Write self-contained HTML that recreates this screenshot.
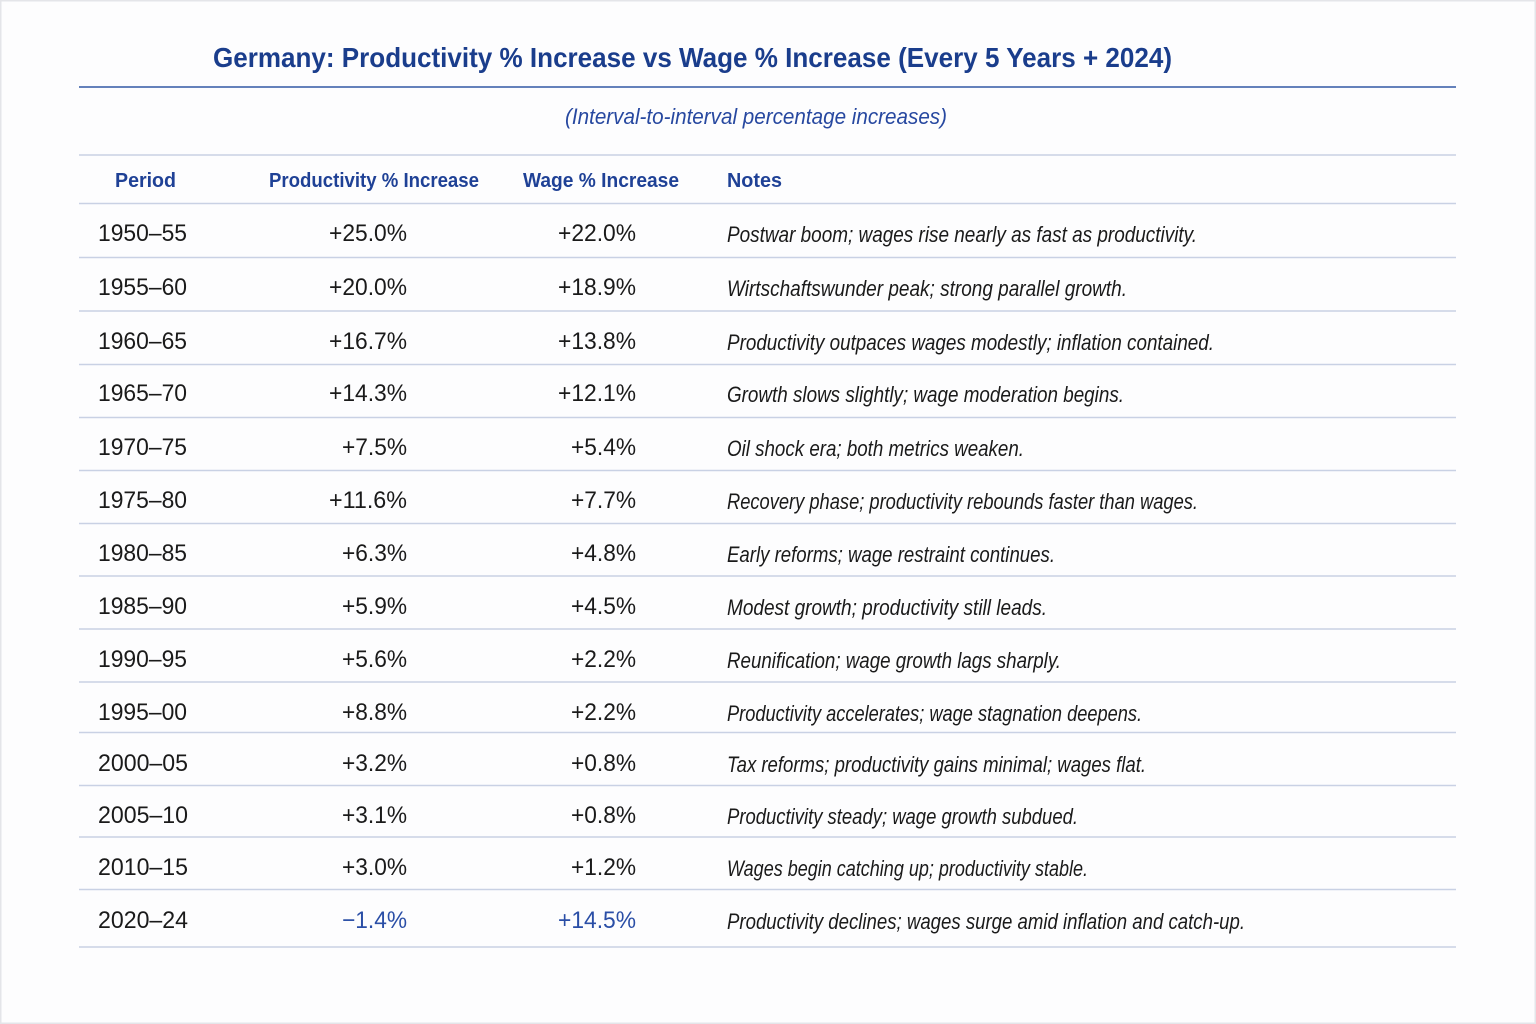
<!DOCTYPE html>
<html>
<head>
<meta charset="utf-8">
<style>
  html, body { margin:0; padding:0; width:1536px; height:1024px; overflow:hidden; background:#fcfcfd; }
  svg { display:block; }
  .t { font-family:"Liberation Sans", "DejaVu Sans", sans-serif; }
</style>
</head>
<body>
<svg width="1536" height="1024" viewBox="0 0 1536 1024" xmlns="http://www.w3.org/2000/svg">
  <rect x="0" y="0" width="1536" height="1024" fill="#fdfdfe"/>
  <rect x="0.75" y="0.75" width="1534.5" height="1022.5" fill="none" stroke="#e4e5e9" stroke-width="1.5"/>

  <!-- Title -->
  <text class="t" x="213" y="67" font-size="27.5" font-weight="bold" fill="#1a3d8c" textLength="959" lengthAdjust="spacingAndGlyphs">Germany: Productivity % Increase vs Wage % Increase (Every 5 Years + 2024)</text>
  <line x1="79" y1="87" x2="1456" y2="87" stroke="#6481bb" stroke-width="2"/>

  <!-- Subtitle -->
  <text class="t" x="565" y="124" font-size="22" font-style="italic" fill="#2748a0" textLength="382" lengthAdjust="spacingAndGlyphs">(Interval-to-interval percentage increases)</text>

  <!-- Table lines -->
  <g stroke="#c9d1e4" stroke-width="1.5">
    <line x1="79" y1="155" x2="1456" y2="155"/>
    <line x1="79" y1="203.5" x2="1456" y2="203.5"/>
    <line x1="79" y1="257.5" x2="1456" y2="257.5"/>
    <line x1="79" y1="311" x2="1456" y2="311"/>
    <line x1="79" y1="364.5" x2="1456" y2="364.5"/>
    <line x1="79" y1="417.5" x2="1456" y2="417.5"/>
    <line x1="79" y1="470.5" x2="1456" y2="470.5"/>
    <line x1="79" y1="523.5" x2="1456" y2="523.5"/>
    <line x1="79" y1="576" x2="1456" y2="576"/>
    <line x1="79" y1="629" x2="1456" y2="629"/>
    <line x1="79" y1="682" x2="1456" y2="682"/>
    <line x1="79" y1="732.5" x2="1456" y2="732.5"/>
    <line x1="79" y1="785.5" x2="1456" y2="785.5"/>
    <line x1="79" y1="837" x2="1456" y2="837"/>
    <line x1="79" y1="889.5" x2="1456" y2="889.5"/>
    <line x1="79" y1="947" x2="1456" y2="947"/>
  </g>

  <!-- Header -->
  <g class="t" font-size="20.5" font-weight="bold" fill="#1f4196">
    <text x="115" y="187" textLength="61" lengthAdjust="spacingAndGlyphs">Period</text>
    <text x="269" y="187" textLength="210" lengthAdjust="spacingAndGlyphs">Productivity % Increase</text>
    <text x="523" y="187" textLength="156" lengthAdjust="spacingAndGlyphs">Wage % Increase</text>
    <text x="727" y="187" textLength="55" lengthAdjust="spacingAndGlyphs">Notes</text>
  </g>

  <!-- Period column -->
  <g class="t" font-size="24" fill="#1a1a1a">
    <text x="98" y="241" textLength="89" lengthAdjust="spacingAndGlyphs">1950–55</text>
    <text x="98" y="295" textLength="89" lengthAdjust="spacingAndGlyphs">1955–60</text>
    <text x="98" y="349" textLength="89" lengthAdjust="spacingAndGlyphs">1960–65</text>
    <text x="98" y="401" textLength="89" lengthAdjust="spacingAndGlyphs">1965–70</text>
    <text x="98" y="455" textLength="89" lengthAdjust="spacingAndGlyphs">1970–75</text>
    <text x="98" y="508" textLength="89" lengthAdjust="spacingAndGlyphs">1975–80</text>
    <text x="98" y="561" textLength="89" lengthAdjust="spacingAndGlyphs">1980–85</text>
    <text x="98" y="614" textLength="89" lengthAdjust="spacingAndGlyphs">1985–90</text>
    <text x="98" y="667" textLength="89" lengthAdjust="spacingAndGlyphs">1990–95</text>
    <text x="98" y="720" textLength="89" lengthAdjust="spacingAndGlyphs">1995–00</text>
    <text x="98" y="771" textLength="90" lengthAdjust="spacingAndGlyphs">2000–05</text>
    <text x="98" y="823" textLength="90" lengthAdjust="spacingAndGlyphs">2005–10</text>
    <text x="98" y="875" textLength="90" lengthAdjust="spacingAndGlyphs">2010–15</text>
    <text x="98" y="928" textLength="90" lengthAdjust="spacingAndGlyphs">2020–24</text>
  </g>

  <!-- Productivity column (right aligned at 407) -->
  <g class="t" font-size="24" fill="#1a1a1a" text-anchor="end">
    <text x="407" y="241" textLength="78" lengthAdjust="spacingAndGlyphs">+25.0%</text>
    <text x="407" y="295" textLength="78" lengthAdjust="spacingAndGlyphs">+20.0%</text>
    <text x="407" y="349" textLength="78" lengthAdjust="spacingAndGlyphs">+16.7%</text>
    <text x="407" y="401" textLength="78" lengthAdjust="spacingAndGlyphs">+14.3%</text>
    <text x="407" y="455" textLength="65" lengthAdjust="spacingAndGlyphs">+7.5%</text>
    <text x="407" y="508" textLength="78" lengthAdjust="spacingAndGlyphs">+11.6%</text>
    <text x="407" y="561" textLength="65" lengthAdjust="spacingAndGlyphs">+6.3%</text>
    <text x="407" y="614" textLength="65" lengthAdjust="spacingAndGlyphs">+5.9%</text>
    <text x="407" y="667" textLength="65" lengthAdjust="spacingAndGlyphs">+5.6%</text>
    <text x="407" y="720" textLength="65" lengthAdjust="spacingAndGlyphs">+8.8%</text>
    <text x="407" y="771" textLength="65" lengthAdjust="spacingAndGlyphs">+3.2%</text>
    <text x="407" y="823" textLength="65" lengthAdjust="spacingAndGlyphs">+3.1%</text>
    <text x="407" y="875" textLength="65" lengthAdjust="spacingAndGlyphs">+3.0%</text>
    <text x="407" y="928" textLength="65" lengthAdjust="spacingAndGlyphs" fill="#2a4ea6">−1.4%</text>
  </g>

  <!-- Wage column (right aligned at 636) -->
  <g class="t" font-size="24" fill="#1a1a1a" text-anchor="end">
    <text x="636" y="241" textLength="78" lengthAdjust="spacingAndGlyphs">+22.0%</text>
    <text x="636" y="295" textLength="78" lengthAdjust="spacingAndGlyphs">+18.9%</text>
    <text x="636" y="349" textLength="78" lengthAdjust="spacingAndGlyphs">+13.8%</text>
    <text x="636" y="401" textLength="78" lengthAdjust="spacingAndGlyphs">+12.1%</text>
    <text x="636" y="455" textLength="65" lengthAdjust="spacingAndGlyphs">+5.4%</text>
    <text x="636" y="508" textLength="65" lengthAdjust="spacingAndGlyphs">+7.7%</text>
    <text x="636" y="561" textLength="65" lengthAdjust="spacingAndGlyphs">+4.8%</text>
    <text x="636" y="614" textLength="65" lengthAdjust="spacingAndGlyphs">+4.5%</text>
    <text x="636" y="667" textLength="65" lengthAdjust="spacingAndGlyphs">+2.2%</text>
    <text x="636" y="720" textLength="65" lengthAdjust="spacingAndGlyphs">+2.2%</text>
    <text x="636" y="771" textLength="65" lengthAdjust="spacingAndGlyphs">+0.8%</text>
    <text x="636" y="823" textLength="65" lengthAdjust="spacingAndGlyphs">+0.8%</text>
    <text x="636" y="875" textLength="65" lengthAdjust="spacingAndGlyphs">+1.2%</text>
    <text x="636" y="928" textLength="78" lengthAdjust="spacingAndGlyphs" fill="#2a4ea6">+14.5%</text>
  </g>

  <!-- Notes -->
  <g class="t" font-size="22.5" font-style="italic" fill="#1a1a1a">
    <text x="727" y="242" textLength="470" lengthAdjust="spacingAndGlyphs">Postwar boom; wages rise nearly as fast as productivity.</text>
    <text x="727" y="296" textLength="400" lengthAdjust="spacingAndGlyphs">Wirtschaftswunder peak; strong parallel growth.</text>
    <text x="727" y="350" textLength="487" lengthAdjust="spacingAndGlyphs">Productivity outpaces wages modestly; inflation contained.</text>
    <text x="727" y="402" textLength="397" lengthAdjust="spacingAndGlyphs">Growth slows slightly; wage moderation begins.</text>
    <text x="727" y="456" textLength="297" lengthAdjust="spacingAndGlyphs">Oil shock era; both metrics weaken.</text>
    <text x="727" y="509" textLength="471" lengthAdjust="spacingAndGlyphs">Recovery phase; productivity rebounds faster than wages.</text>
    <text x="727" y="562" textLength="328" lengthAdjust="spacingAndGlyphs">Early reforms; wage restraint continues.</text>
    <text x="727" y="615" textLength="320" lengthAdjust="spacingAndGlyphs">Modest growth; productivity still leads.</text>
    <text x="727" y="668" textLength="334" lengthAdjust="spacingAndGlyphs">Reunification; wage growth lags sharply.</text>
    <text x="727" y="721" textLength="415" lengthAdjust="spacingAndGlyphs">Productivity accelerates; wage stagnation deepens.</text>
    <text x="727" y="772" textLength="419" lengthAdjust="spacingAndGlyphs">Tax reforms; productivity gains minimal; wages flat.</text>
    <text x="727" y="824" textLength="351" lengthAdjust="spacingAndGlyphs">Productivity steady; wage growth subdued.</text>
    <text x="727" y="876" textLength="361" lengthAdjust="spacingAndGlyphs">Wages begin catching up; productivity stable.</text>
    <text x="727" y="929" textLength="518" lengthAdjust="spacingAndGlyphs">Productivity declines; wages surge amid inflation and catch-up.</text>
  </g>
</svg>
</body>
</html>
